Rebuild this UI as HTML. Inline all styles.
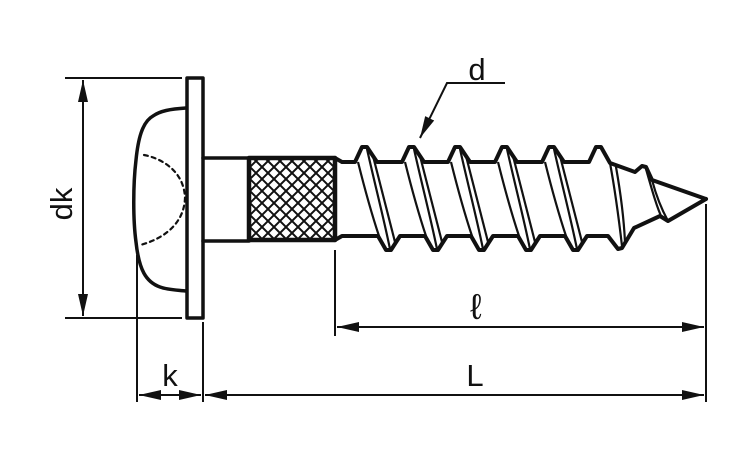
<!DOCTYPE html>
<html><head><meta charset="utf-8"><style>
html,body{margin:0;padding:0;background:#fff}
svg{display:block}
text{font-family:"Liberation Sans",sans-serif;fill:#111}
</style></head><body>
<svg width="750" height="450" viewBox="0 0 750 450" xmlns="http://www.w3.org/2000/svg">
<defs>
<clipPath id="kc"><rect x="249" y="158" width="86" height="82"/></clipPath>
<marker id="ar" viewBox="0 0 22 10" refX="22" refY="5" markerWidth="22" markerHeight="11" markerUnits="userSpaceOnUse" orient="auto-start-reverse"><path d="M0,0 L22,5 L0,10 Z" fill="#111"/></marker>
<g id="th" fill="none" stroke="#111" stroke-width="2.2">
<path d="M3,162 C10,190 17,215 24,236"/>
<path d="M12,149 C20,185 28,215 35,249"/>
<path d="M18,156 C26,188 33,215 40,242"/>
</g>
</defs>
<g stroke="#111" fill="none" stroke-linecap="round" stroke-linejoin="round">
<path d="M186,108 C170,109 160,111 153,116 C142,122 138,140 136,160 C133,185 133,220 136,242 C139,270 146,282 160,287 C168,290 178,290 186,291" stroke-width="3.5"/>
<path d="M144,155 C160,158 184,170 185,198 C184,226 160,240 140,245" stroke-width="2.2" stroke-dasharray="4,4"/>
<rect x="187" y="78" width="16" height="240" stroke-width="3.5"/>
<path d="M203,158 L249,158 M203,241 L249,241" stroke-width="3.5"/>
<g clip-path="url(#kc)" stroke-width="2">
<path d="M169,158 l100,100 M181,158 l100,100 M193,158 l100,100 M205,158 l100,100 M217,158 l100,100 M229,158 l100,100 M241,158 l100,100 M253,158 l100,100 M265,158 l100,100 M277,158 l100,100 M289,158 l100,100 M301,158 l100,100 M313,158 l100,100 M325,158 l100,100"/>
<path d="M415,158 l-100,100 M403,158 l-100,100 M391,158 l-100,100 M379,158 l-100,100 M367,158 l-100,100 M355,158 l-100,100 M343,158 l-100,100 M331,158 l-100,100 M319,158 l-100,100 M307,158 l-100,100 M295,158 l-100,100 M283,158 l-100,100 M271,158 l-100,100 M259,158 l-100,100"/>
</g>
<rect x="249" y="158" width="86" height="82" stroke-width="4.5"/>
<path d="M335,158 L342,162 L355,162 L362,147 L367,147 L377,162 L402,162 L409,147 L414,147 L424,162 L448,162 L455,147 L460,147 L470,162 L495,162 L502,147 L507,147 L517,162 L542,162 L549,147 L554,147 L564,162 L589,162 L596,147 L601,147 L610,163 L635,172 L642,166 L646,167 L652,180 L706,199" stroke-width="4"/>
<path d="M335,240 L342,236 L378,236 L386,250 L391,250 L400,236 L425,236 L433,250 L438,250 L447,236 L471,236 L479,250 L484,250 L493,236 L518,236 L526,250 L531,250 L540,236 L565,236 L573,250 L578,250 L587,236 L608,236 L618,249 L622,248 L634,228 L660,216 L668,221 L706,199" stroke-width="4"/>
<path d="M652,180 C656,195 662,210 668,221 M646,169 C652,190 657,208 662,218 M610,163 C615,190 619,220 622,246 M616,167 C621,195 624,222 625,242" stroke-width="2.2"/>
</g>
<use href="#th" x="355" y="0"/>
<use href="#th" x="402" y="0"/>
<use href="#th" x="448" y="0"/>
<use href="#th" x="495" y="0"/>
<use href="#th" x="542" y="0"/>
<g stroke="#111" stroke-width="2" fill="none">
<path d="M65,78 L182,78 M65,318 L182,318"/>
<path d="M83,80 L83,316" marker-start="url(#ar)" marker-end="url(#ar)"/>
<path d="M137,255 L137,402 M203,322 L203,402 M335,250 L335,336 M706,204 L706,402"/>
<path d="M139,395 L201,395" marker-start="url(#ar)" marker-end="url(#ar)"/>
<path d="M205,395 L704,395" marker-start="url(#ar)" marker-end="url(#ar)"/>
<path d="M337,327 L704,327" marker-start="url(#ar)" marker-end="url(#ar)"/>
<path d="M505,83 L447,83 L420,138" marker-end="url(#ar)"/>
</g>
<text x="477" y="80" font-size="31" text-anchor="middle">d</text>
<text x="170" y="386" font-size="31" text-anchor="middle">k</text>
<text x="475" y="386" font-size="31" text-anchor="middle">L</text>
<text x="476" y="319" font-size="36" text-anchor="middle" font-family="DejaVu Sans, sans-serif">ℓ</text>
<text transform="translate(72,204) rotate(-90)" font-size="31" text-anchor="middle">dk</text>
</svg>
</body></html>
